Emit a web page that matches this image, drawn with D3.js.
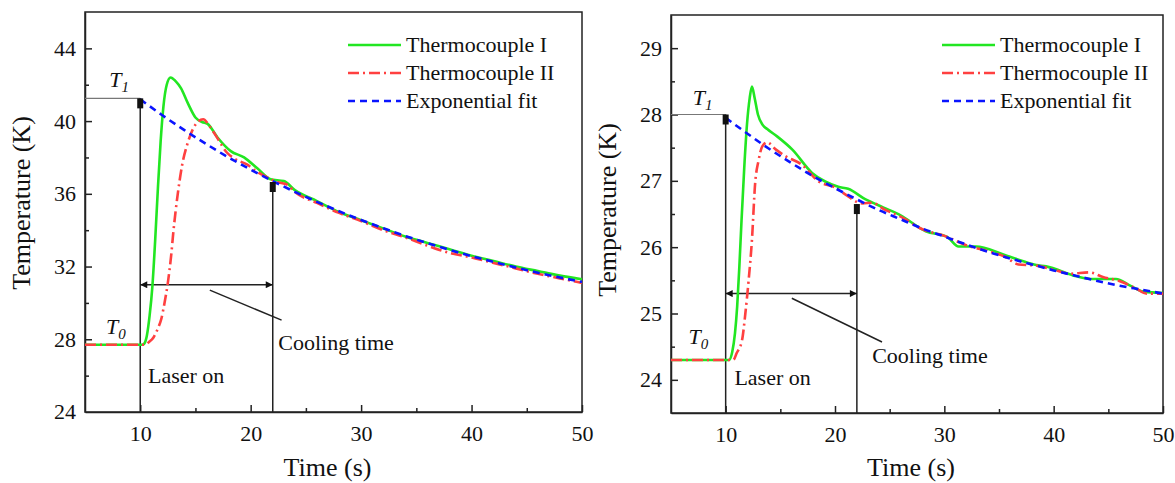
<!DOCTYPE html>
<html>
<head>
<meta charset="utf-8">
<script src="https://cdn.jsdelivr.net/npm/d3@7"></script>
<style>
  body { margin: 0; background: #fff; }
  .axis path, .axis line { stroke: #222; stroke-width: 1.5; }
</style>
</head>
<body>
<svg id="chart" width="1175" height="483"></svg>
<script>
const FONT = "Liberation Serif";

// Series names
const seriesNames = ["Thermocouple I", "Thermocouple II", "Exponential fit"];

// Left panel data [time (s), temperature (K)]
const leftTc1 = [[5,27.7],[10.2,27.7],[10.35,27.75],[10.6,28.2],[10.85,29.3],[11.1,30.9],[11.35,33.4],[11.6,36.3],[11.85,38.9],[12.1,40.8],[12.4,42.0],[12.75,42.4],[13.2,42.2],[13.7,41.8],[14.3,41.0],[15.0,40.2],[15.6,39.95],[16.1,39.85],[17.0,39.1],[18.2,38.35],[19.4,38.0],[20.6,37.4],[21.8,36.8],[23.0,36.7],[24.0,36.2],[26,35.6],[28,35.0],[30,34.55],[32,34.1],[34,33.65],[36,33.3],[38,32.95],[40,32.6],[42,32.3],[44,32.0],[46,31.75],[48,31.5],[50,31.3]];
const leftTc2 = [[5,27.7],[10.4,27.7],[10.8,27.85],[11.2,28.1],[11.6,28.6],[11.9,29.1],[12.2,30.0],[12.5,31.1],[12.8,32.6],[13.0,33.9],[13.4,36.0],[13.8,37.6],[14.3,38.8],[14.8,39.6],[15.2,39.95],[15.7,40.1],[16.3,39.7],[17.0,39.05],[17.8,38.3],[18.5,37.95],[19.7,37.6],[20.6,37.2],[21.5,36.9],[22.4,36.65],[23.3,36.5],[24,36.1],[26,35.5],[28,34.95],[30,34.5],[32,34.0],[34,33.6],[36,33.15],[38,32.75],[40,32.5],[42,32.2],[44,31.9],[46,31.6],[48,31.35],[50,31.1]];
const leftFit = [[10,41.2],[12,40.32],[14,39.5],[16,38.73],[18,38.0],[20,37.33],[22,36.7],[24,36.11],[26,35.56],[28,35.04],[30,34.56],[32,34.11],[34,33.68],[36,33.29],[38,32.92],[40,32.57],[42,32.25],[44,31.95],[46,31.66],[48,31.4],[50,31.15]];

// Right panel data
const rightTc1 = [[5,24.3],[10.3,24.3],[10.6,24.42],[10.85,24.7],[11.05,25.1],[11.25,25.7],[11.45,26.4],[11.7,27.2],[11.95,27.85],[12.2,28.25],[12.4,28.42],[12.65,28.25],[12.95,28.0],[13.4,27.84],[13.8,27.78],[14.7,27.67],[16.1,27.47],[17.9,27.12],[19.1,26.99],[20.3,26.91],[21.2,26.88],[22.8,26.72],[24.4,26.6],[26,26.48],[28.3,26.24],[30.3,26.15],[31.3,26.01],[32.9,26.01],[35.4,25.89],[37,25.8],[38.4,25.73],[39.3,25.71],[42.1,25.56],[43.6,25.52],[45.7,25.52],[47,25.42],[48.2,25.33],[50,25.31]];
const rightTc2 = [[5,24.3],[10.7,24.3],[11.0,24.4],[11.5,24.6],[11.8,25.0],[12.1,25.5],[12.4,26.1],[12.7,26.97],[13.0,27.3],[13.35,27.52],[13.8,27.58],[14.6,27.47],[15.5,27.37],[17.0,27.24],[18.5,26.99],[20.0,26.9],[20.9,26.8],[22.5,26.66],[23.4,26.67],[24.5,26.57],[26,26.46],[28,26.27],[30,26.17],[32,26.03],[34,25.94],[35.5,25.86],[36.8,25.74],[38.5,25.72],[40,25.66],[41.5,25.6],[43.3,25.62],[44.5,25.55],[46,25.49],[47.5,25.38],[48.5,25.3],[50,25.3]];
const rightFit = [[10,27.95],[12,27.71],[14,27.48],[16,27.27],[18,27.07],[20,26.89],[22,26.72],[24,26.56],[26,26.42],[28,26.28],[30,26.16],[32,26.04],[34,25.93],[36,25.83],[38,25.74],[40,25.65],[42,25.57],[44,25.49],[46,25.42],[48,25.36],[50,25.3]];

// Axis ticks
const xTicks = [10, 15, 20, 25, 30, 35, 40, 45, 50];
const xLabels = [10, 20, 30, 40, 50];
const leftYTicks = [26, 28, 30, 32, 34, 36, 38, 40, 42, 44];
const leftYLabels = [24, 28, 32, 36, 40, 44];
const rightYTicks = [24, 24.5, 25, 25.5, 26, 26.5, 27, 27.5, 28, 28.5, 29];
const rightYLabels = [24, 25, 26, 27, 28, 29];

// Annotation values: laser on, end of cooling, T0, T1, T at end, arrow level
const leftNotes = { tOn: 10, tEnd: 22, T0: 27.7, T1: 41.25, Tend: 36.65, arrowT: 31.0,
  leader: [[16.3, 30.7], [22.8, 29.05]], cool: [22.5, 27.4], laser: [10.7, 25.6],
  t1Lab: [7.2, 41.86], t0Lab: [6.9, 28.3] };
const rightNotes = { tOn: 10, tEnd: 22, T0: 24.3, T1: 28.0, Tend: 26.65, arrowT: 25.3,
  leader: [[16.05, 25.23], [24.3, 24.57]], cool: [23.4, 24.25], laser: [10.8, 23.92],
  t1Lab: [7.0, 28.15], t0Lab: [6.6, 24.54] };

const colors = ["#22e622", "#ff4040", "#0a14ff"];
const dashes = [null, "11,4,2,4", "7,5"];

const svg = d3.select("#chart");

const defs = svg.append("defs");
defs.append("marker")
  .attr("id", "arr")
  .attr("viewBox", "0 0 10 10")
  .attr("refX", 10).attr("refY", 5)
  .attr("markerWidth", 10).attr("markerHeight", 7)
  .attr("markerUnits", "userSpaceOnUse")
  .attr("orient", "auto-start-reverse")
  .append("path").attr("d", "M0,0 L10,5 L0,10 Z").attr("fill", "#111");

function label(g, size) {
  return g.append("text").attr("font-family", FONT).attr("font-size", size).attr("fill", "#111");
}

function drawPanel(p) {
  const x = d3.scaleLinear().domain([5, 50]).range([p.left, p.right]);
  const y = d3.scaleLinear().domain(p.yDomain).range([p.bottom, p.top]);
  const g = svg.append("g");

  // frame
  g.append("rect")
    .attr("x", p.left).attr("y", p.top)
    .attr("width", p.right - p.left).attr("height", p.bottom - p.top)
    .attr("fill", "none").attr("stroke", "#222").attr("stroke-width", 1.5);

  // axes with inward ticks
  const xAxis = g.append("g").attr("class", "axis")
    .attr("transform", `translate(0,${p.bottom})`)
    .call(d3.axisBottom(x).tickValues(xTicks).tickSizeInner(-7).tickSizeOuter(0).tickPadding(13)
      .tickFormat((d) => (xLabels.includes(d) ? d : "")));
  xAxis.selectAll(".tick").filter((d) => !xLabels.includes(d)).select("line").attr("y2", -4);
  xAxis.selectAll("text").attr("font-family", FONT).attr("font-size", 22).attr("fill", "#111");

  const yAxis = g.append("g").attr("class", "axis")
    .attr("transform", `translate(${p.left},0)`)
    .call(d3.axisLeft(y).tickValues(p.yTicks).tickSizeInner(-7).tickSizeOuter(0).tickPadding(9)
      .tickFormat((d) => (p.yLabels.includes(d) ? d : "")));
  yAxis.selectAll(".tick").filter((d) => !p.yLabels.includes(d)).select("line").attr("x2", 4);
  yAxis.selectAll("text").attr("font-family", FONT).attr("font-size", 22).attr("fill", "#111");
  // bottom label of the left y axis sits on the x axis line
  if (p.yDomain[0] === p.yLabels[0]) {
    label(yAxis, 22).attr("x", -9).attr("y", y(p.yLabels[0])).attr("dy", "0.32em")
      .attr("text-anchor", "end").text(p.yLabels[0]);
  }

  // axis titles
  label(g, 26).attr("x", (p.left + p.right) / 2 - 6).attr("y", 476)
    .attr("text-anchor", "middle").text("Time (s)");
  label(g, 26).attr("transform", `translate(${p.left - 55},${p.titleY}) rotate(-90)`)
    .attr("text-anchor", "middle").text("Temperature (K)");

  const n = p.notes;
  // annotation lines
  g.append("line").attr("x1", x(5)).attr("x2", x(n.tOn)).attr("y1", y(n.T1)).attr("y2", y(n.T1))
    .attr("stroke", "#777").attr("stroke-width", 1.2);
  g.append("line").attr("x1", x(n.tOn)).attr("x2", x(n.tOn)).attr("y1", y(n.T1)).attr("y2", p.bottom)
    .attr("stroke", "#222").attr("stroke-width", 1.5);
  g.append("line").attr("x1", x(n.tEnd)).attr("x2", x(n.tEnd)).attr("y1", y(n.Tend)).attr("y2", p.bottom)
    .attr("stroke", "#222").attr("stroke-width", 1.5);
  g.append("line").attr("x1", x(n.tOn)).attr("x2", x(n.tEnd)).attr("y1", y(n.arrowT)).attr("y2", y(n.arrowT))
    .attr("stroke", "#222").attr("stroke-width", 1.5)
    .attr("marker-start", "url(#arr)").attr("marker-end", "url(#arr)");
  g.append("line")
    .attr("x1", x(n.leader[0][0])).attr("y1", y(n.leader[0][1]))
    .attr("x2", x(n.leader[1][0])).attr("y2", y(n.leader[1][1]))
    .attr("stroke", "#222").attr("stroke-width", 1.5);

  // series
  const line = d3.line().x((d) => x(d[0])).y((d) => y(d[1])).curve(d3.curveMonotoneX);
  p.series.forEach((s, i) => {
    g.append("path").datum(s).attr("d", line)
      .attr("fill", "none").attr("stroke", colors[i]).attr("stroke-width", 2.6)
      .attr("stroke-dasharray", dashes[i]);
  });

  // square markers
  [[n.tOn, n.T1], [n.tEnd, n.Tend]].forEach((m) => {
    g.append("rect").attr("x", x(m[0]) - 3).attr("y", y(m[1])).attr("width", 6).attr("height", 10)
      .attr("fill", "#111");
  });

  // labels
  label(g, 22).attr("x", x(n.laser[0])).attr("y", y(n.laser[1])).text("Laser on");
  label(g, 22).attr("x", x(n.cool[0])).attr("y", y(n.cool[1])).text("Cooling time");
  [["1", n.t1Lab], ["0", n.t0Lab]].forEach(([sub, pos]) => {
    const t = label(g, 22).attr("x", x(pos[0])).attr("y", y(pos[1])).attr("font-style", "italic");
    t.append("tspan").text("T");
    t.append("tspan").attr("font-size", 15).attr("dy", 5).text(sub);
  });

  // legend
  seriesNames.forEach((name, i) => {
    const ly = p.legendY + i * 28;
    g.append("line").attr("x1", p.legendX).attr("x2", p.legendX + 53).attr("y1", ly).attr("y2", ly)
      .attr("stroke", colors[i]).attr("stroke-width", 2.6).attr("stroke-dasharray", dashes[i]);
    label(g, 22).attr("x", p.legendX + 58).attr("y", ly).attr("dy", "0.33em").text(name);
  });
}

drawPanel({ left: 85, right: 582, top: 12, bottom: 412, yDomain: [24, 46],
  yTicks: leftYTicks, yLabels: leftYLabels, series: [leftTc1, leftTc2, leftFit],
  notes: leftNotes, legendX: 348, legendY: 45, titleY: 203 });
drawPanel({ left: 671, right: 1163, top: 15, bottom: 413, yDomain: [23.5, 29.5],
  yTicks: rightYTicks, yLabels: rightYLabels, series: [rightTc1, rightTc2, rightFit],
  notes: rightNotes, legendX: 942, legendY: 45, titleY: 210 });
</script>
</body>
</html>
